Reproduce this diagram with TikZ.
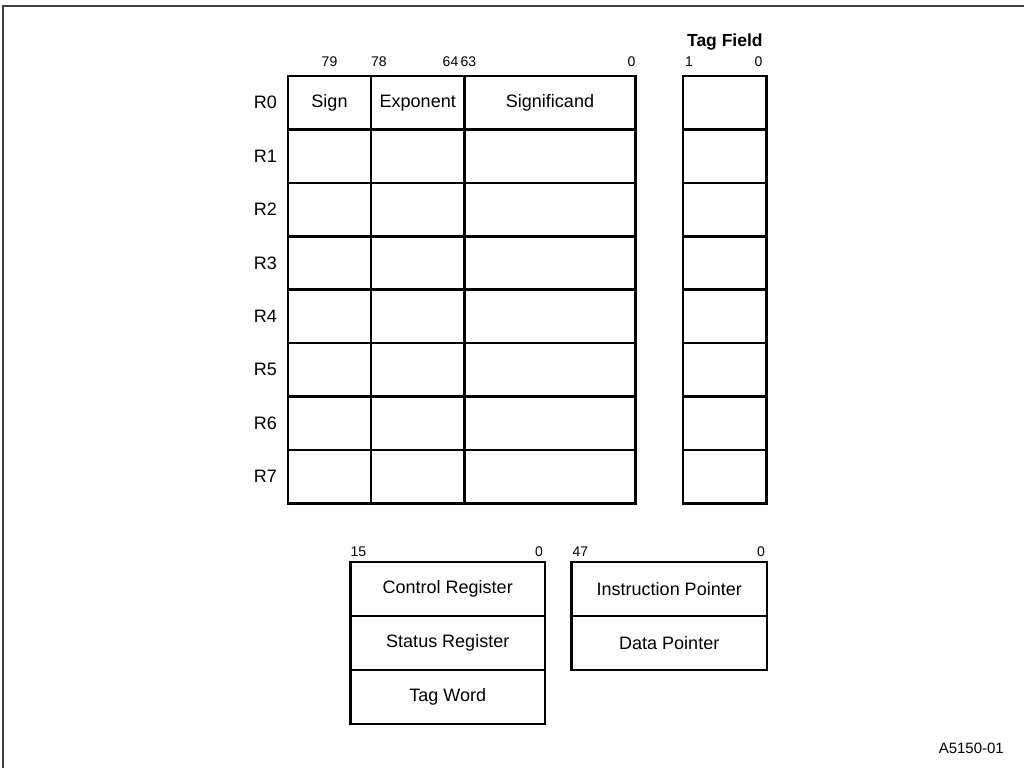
\documentclass[tikz,border=0pt]{standalone}
\usepackage{fontspec}
\setmainfont{Liberation Sans}
\usetikzlibrary{positioning}
\newcommand{\cellfont}{\fontsize{18}{21}\selectfont}
\newcommand{\bitfont}{\fontsize{14}{16}\selectfont}
\tikzset{
  cell/.style={rectangle, draw=black, line width=2.6pt, inner sep=0pt,
               outer sep=0pt, minimum width=#1, minimum height=53.4pt,
               font=\cellfont},
  wide/.style={cell=#1, minimum height=54pt},
  bitno/.style={inner sep=0pt, font=\bitfont},
  rlbl/.style={inner sep=0pt, font=\cellfont},
  frame/.style={draw=black!75, line width=2pt},
}

\begin{document}
\begin{tikzpicture}[x=1pt, y=-1pt]
  \useasboundingbox (0,0) rectangle (1024,768);
  \draw[frame] (3,768) -- (3,6) -- (1024,6);

  % data registers
  \node[cell=83pt]   (sgn0) at (329.5,102.7)  {Sign};
  \node[cell=93.5pt] (exp0) at (417.75,102.7) {Exponent};
  \node[cell=171pt]  (sig0) at (550,102.7)    {Significand};
  \node[cell=83.7pt] (tag0) at (724.85,102.7) {};
  \node[rlbl, left=11pt of sgn0] {R0};
  \foreach \i in {1,...,7} {
    \pgfmathsetmacro\yy{102.7+53.4*\i}
    \node[cell=83pt]   (sgn\i) at (329.5,\yy)  {};
    \node[cell=93.5pt] (exp\i) at (417.75,\yy) {};
    \node[cell=171pt]  (sig\i) at (550,\yy)    {};
    \node[cell=83.7pt] (tag\i) at (724.85,\yy) {};
    \node[rlbl, left=11pt of sgn\i] {R\i};
  }

  \node[bitno, above=9pt of sgn0] {79};
  \node[bitno, above right=9pt and 0pt of sgn0.north east] {78};
  \node[bitno, above left=9pt and 6pt of exp0.north east] {64};
  \node[bitno, above right=9pt and -4pt of sig0.north west] {63};
  \node[bitno, above left=9pt and 0pt of sig0.north east] {0};
  \node[bitno, above right=9pt and 2pt of tag0.north west] {1};
  \node[bitno, above left=9pt and 4pt of tag0.north east] {0};
  \node[rlbl, font=\fontsize{17.5}{20}\selectfont\bfseries, above=26pt of tag0] {Tag Field};

  % control, status, tag word
  \node[wide=194.5pt] (ctrl) at (447.75,589) {Control Register};
  \node[wide=194.5pt] (stat) at (447.75,643) {Status Register};
  \node[wide=194.5pt] (tagw) at (447.75,697) {Tag Word};
  \node[wide=195.5pt] (ip)   at (669.25,589) {Instruction Pointer};
  \node[wide=195.5pt] (dp)   at (669.25,643) {Data Pointer};

  \node[bitno, above right=5pt and 0pt of ctrl.north west] {15};
  \node[bitno, above left=5pt and 2pt of ctrl.north east] {0};
  \node[bitno, above right=5pt and 1pt of ip.north west] {47};
  \node[bitno, above left=5pt and 2pt of ip.north east] {0};

  \node[inner sep=0pt, font=\fontsize{15}{17}\selectfont, anchor=base east]
       (fig) at (1004,753) {A5150-01};
\end{tikzpicture}
\end{document}
